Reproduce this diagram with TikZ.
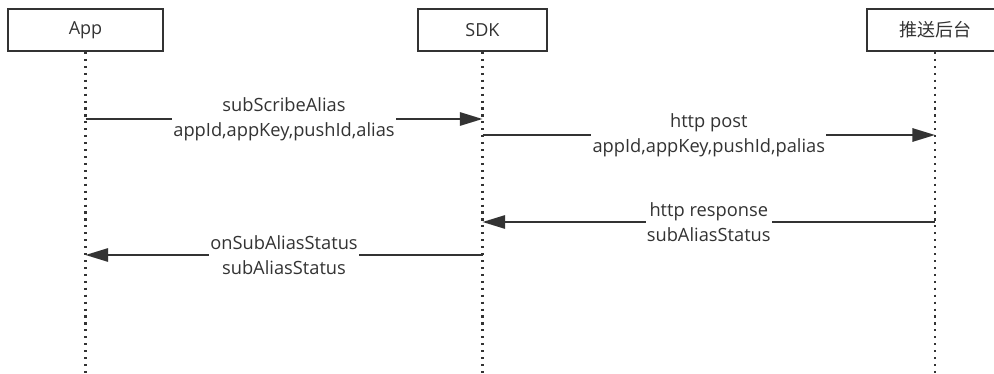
\documentclass[tikz,border=0pt]{standalone}
\usepackage{fontspec}
\setmainfont{Open Sans}
\newfontfamily\cjk{Noto Sans CJK SC}
\usetikzlibrary{arrows.meta}
\definecolor{ink}{HTML}{333333}
\tikzset{>={Triangle[length=17pt,width=10pt]}}
\tikzset{
  actor/.style={draw=ink,line width=1.5pt,minimum height=42*0.75pt,inner sep=0pt,text=ink,font=\fontsize{13.5}{15}\selectfont},
  lifeline/.style={ink,line width=1.6pt,dash pattern=on 1.6pt off 3.6pt},
  msg/.style={ink,line width=1.5pt,->},
  msgtext/.style={fill=white,inner sep=1pt,text=ink,align=center,font=\fontsize{13.7}{18.8}\selectfont}
}

\begin{document}
\begin{tikzpicture}[x=0.75pt,y=-0.75pt]
		\clip (0,0) rectangle (994,374);
		\useasboundingbox (0,0) rectangle (994,374);
		% actors
		\node[actor,minimum width=155*0.75pt] (app) at (85.5,30) {App};
		\node[actor,minimum width=129*0.75pt] (sdk) at (482.5,30) {SDK};
		\node[actor,minimum width=136*0.75pt] (push) at (935,30) {\cjk 推送后台};
		% lifelines
		\coordinate (bot) at (0,374);
		\draw[lifeline] (app.south) -- (app.south |- bot);
		\draw[lifeline] (sdk.south) -- (sdk.south |- bot);
		\draw[lifeline] (push.south) -- (push.south |- bot);
		% messages
		\coordinate (m1) at (0,119);
		\coordinate (m2) at (0,135);
		\coordinate (m3) at (0,222);
		\coordinate (m4) at (0,255);
		\draw[msg] (app |- m1) -- (sdk |- m1) node[midway,msgtext] {subScribeAlias\\appId,appKey,pushId,alias};
		\draw[msg] (sdk |- m2) -- (push |- m2) node[midway,msgtext] {http post\\appId,appKey,pushId,palias};
		\draw[msg] (push |- m3) -- (sdk |- m3) node[midway,msgtext] {http response\\subAliasStatus};
		\draw[msg] (sdk |- m4) -- (app |- m4) node[midway,msgtext] {onSubAliasStatus\\subAliasStatus};
\end{tikzpicture}
\end{document}
